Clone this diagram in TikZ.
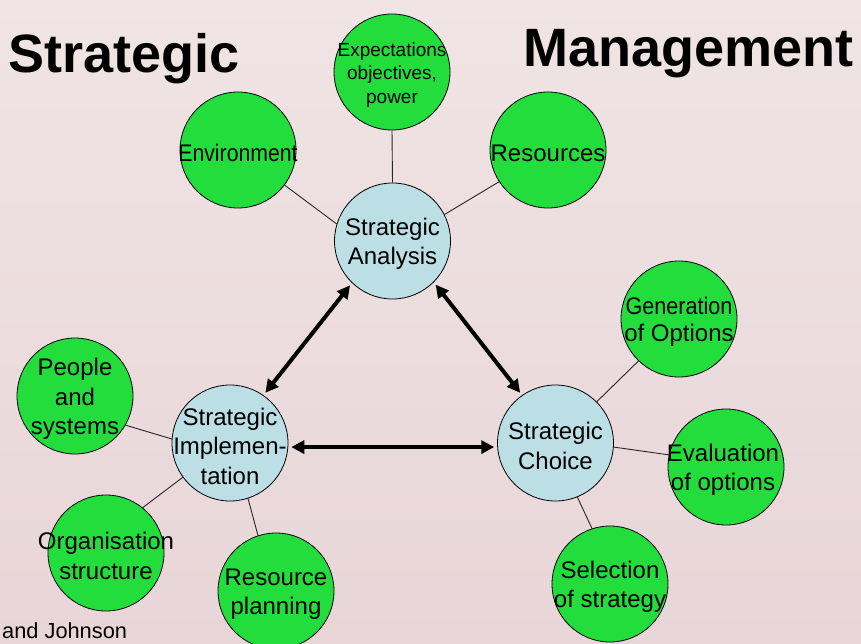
\documentclass[tikz,border=0pt]{standalone}
\usepackage{fontspec}
\setmainfont{Liberation Sans}
\usetikzlibrary{arrows.meta}

\definecolor{bgtop}{RGB}{240,228,228}
\definecolor{bgbot}{RGB}{232,213,215}
\definecolor{leafgreen}{RGB}{35,221,61}
\definecolor{hubblue}{RGB}{187,223,228}

\tikzset{
  leaf/.style={circle, draw=black, line width=0.8pt, fill=leafgreen,
               minimum size=116pt, inner sep=0pt},
  hub/.style={circle, draw=black, line width=0.8pt, fill=hubblue,
              minimum size=116pt, inner sep=0pt},
  caption/.style={align=center, inner sep=0pt, text=black, yshift=-3pt,
                  font=\fontsize{24}{29.5}\selectfont},
  spoke/.style={line width=0.9pt, draw=black!85},
  flow/.style={line width=4pt,
               {Triangle[length=13pt,width=13pt]}-{Triangle[length=13pt,width=13pt]},
               shorten >=3pt, shorten <=3pt},
  heading/.style={font=\fontsize{54}{60}\selectfont\bfseries,
                  inner sep=0pt, anchor=base west}
}

\begin{document}
\begin{tikzpicture}[x=1pt,y=-1pt]
  % page background
  \fill[top color=bgtop, bottom color=bgbot] (0,0) rectangle (861,644);
  \useasboundingbox (0,0) rectangle (861,644);

  % title
  \node[heading] (title-l) at (8,73) {Strategic};
  \node[heading] (title-r) at (523,67) {Management};

  % the three hubs
  \node[hub] (sa) at (392.5,241) {};
  \node[hub] (si) at (230,443) {};
  \node[hub] (sc) at (555.5,443) {};

  % analysis satellites
  \node[leaf] (exp) at (392,72) {};
  \node[leaf] (env) at (238,150) {};
  \node[leaf] (res) at (548,150) {};

  % implementation satellites
  \node[leaf] (ppl) at (75,396) {};
  \node[leaf] (org) at (106,553) {};
  \node[leaf] (rpl) at (276,591) {};

  % choice satellites
  \node[leaf] (gen) at (679,319) {};
  \node[leaf] (eva) at (726,467) {};
  \node[leaf] (sel) at (610,584) {};

  % spokes
  \draw[spoke] (exp.south) -- (sa.north);
  \draw[spoke] (env.-37) -- (sa.163);
  \draw[spoke] (res.213) -- (sa.27);
  \draw[spoke] (ppl.-30) -- (si.176);
  \draw[spoke] (org.51) -- (si.216);
  \draw[spoke] (rpl.108) -- (si.-72);
  \draw[spoke] (gen.226) -- (sc.45);
  \draw[spoke] (eva.168) -- (sc.-4);
  \draw[spoke] (sel.108) -- (sc.-68);

  % two-way arrows between hubs
  \draw[flow] (sa.-134) -- (si.55);
  \draw[flow] (sa.-45) -- (sc.125);
  \draw[flow] (si.-4) -- (sc.184);

  % captions
  \node[caption] (sa-t) at (sa) {Strategic\\Analysis};
  \node[caption] (si-t) at (si) {Strategic\\Implemen-\\tation};
  \node[caption] (sc-t) at (sc) {Strategic\\Choice};

  \node[caption, font=\fontsize{19}{23.5}\selectfont] (exp-t) at (exp)
    {Expectations\\objectives,\\power};
  \node[caption] (env-t) at (env) {\scalebox{0.885}[1]{Environment}};
  \node[caption] (res-t) at (res) {Resources};

  \node[caption] (ppl-t) at (ppl) {People\\and\\systems};
  \node[caption] (org-t) at (org) {Organisation\\structure};
  \node[caption] (rpl-t) at (rpl) {Resource\\planning};

  \node[caption, font=\fontsize{24}{27.5}\selectfont] (gen-t) at (gen)
    {\scalebox{0.9}[1]{Generation}\\of Options};
  \node[caption, font=\fontsize{24}{29}\selectfont] (eva-t) at (723,467)
    {Evaluation\\of options};
  \node[caption] (sel-t) at (sel) {Selection\\of strategy};

  % source note
  \node[inner sep=0pt, anchor=base west, font=\fontsize{21.8}{25}\selectfont]
    (src) at (2,638) {and Johnson};
\end{tikzpicture}
\end{document}
